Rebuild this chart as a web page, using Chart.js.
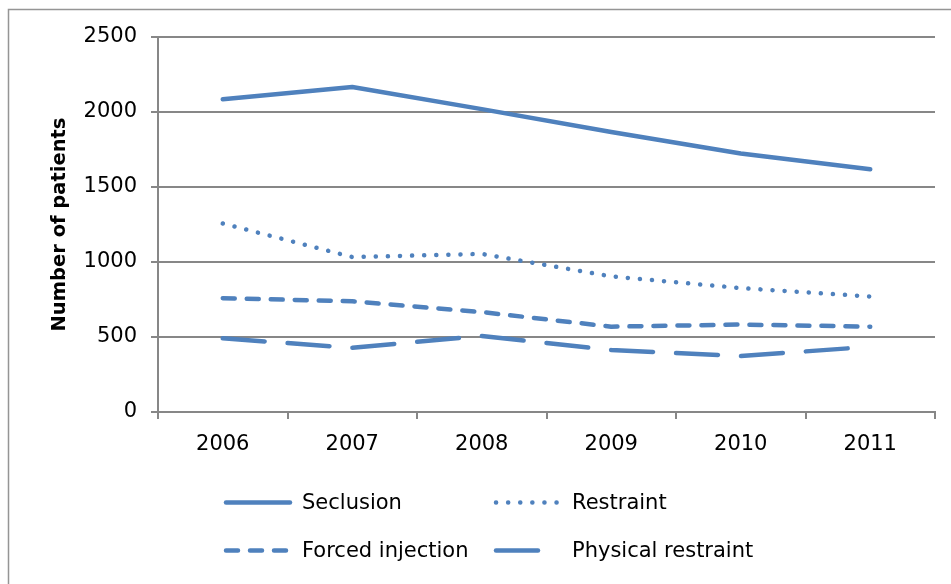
<!DOCTYPE html>
<html>
<head>
<meta charset="utf-8">
<script src="https://cdn.jsdelivr.net/npm/chart.js@4/dist/chart.umd.min.js"></script>
<style>
  html, body { margin: 0; padding: 0; background: #ffffff; }
  canvas { display: block; }
</style>
</head>
<body>
<canvas id="c" width="951" height="584"></canvas>
<script>
const years = ['2006', '2007', '2008', '2009', '2010', '2011'];
const seclusion = [2085, 2167, 2019, 1867, 1723, 1619];
const restraint = [1257, 1033, 1054, 904, 826, 770];
const forcedInjection = [759, 738, 666, 569, 583, 569];
const physicalRestraint = [491, 428, 507, 413, 373, 435];
const yTicks = [0, 500, 1000, 1500, 2000, 2500];
const yTitle = 'Number of patients';

const BLUE = '#4F81BD';
const GRID = '#878787';
const FONT = 'DejaVu Sans';

const framePlugin = {
  id: 'frame',
  beforeDraw(chart) {
    const ctx = chart.ctx;
    ctx.save();
    ctx.fillStyle = '#ffffff';
    ctx.fillRect(0, 0, chart.width, chart.height);
    ctx.strokeStyle = '#959595';
    ctx.lineWidth = 1.5;
    ctx.strokeRect(8.5, 9.5, 1200, 1000);
    ctx.restore();
  }
};

const legendPlugin = {
  id: 'customLegend',
  afterDraw(chart) {
    const ctx = chart.ctx;
    const colX = [226, 496];
    const rowY = [502.5, 550.5];
    ctx.save();
    chart.data.datasets.forEach((ds, i) => {
      const x0 = colX[i % 2];
      const y = rowY[Math.floor(i / 2)];
      ctx.strokeStyle = ds.borderColor;
      ctx.lineWidth = ds.borderWidth;
      ctx.lineCap = 'round';
      ctx.setLineDash(ds.borderDash || []);
      ctx.beginPath();
      ctx.moveTo(x0, y);
      ctx.lineTo(x0 + 64, y);
      ctx.stroke();
      ctx.setLineDash([]);
      ctx.fillStyle = '#000000';
      ctx.font = '21px "' + FONT + '"';
      ctx.textBaseline = 'middle';
      ctx.textAlign = 'left';
      ctx.fillText(ds.label, x0 + 76, y + 1);
    });
    ctx.restore();
  }
};

function mkSet(label, data, dash) {
  return {
    label: label,
    data: data,
    borderColor: BLUE,
    backgroundColor: BLUE,
    borderWidth: 4.5,
    borderDash: dash,
    borderCapStyle: 'round',
    borderJoinStyle: 'round',
    pointRadius: 0,
    pointHoverRadius: 0,
    tension: 0,
    fill: false
  };
}

new Chart(document.getElementById('c'), {
  type: 'line',
  data: {
    labels: years,
    datasets: [
      mkSet('Seclusion', seclusion, []),
      mkSet('Restraint', restraint, [0.1, 12]),
      mkSet('Forced injection', forcedInjection, [12, 12]),
      mkSet('Physical restraint', physicalRestraint, [42, 23])
    ]
  },
  options: {
    responsive: false,
    animation: false,
    devicePixelRatio: 1,
    layout: { padding: { left: 10, top: 37, right: 16, bottom: 120 } },
    plugins: {
      legend: { display: false },
      tooltip: { enabled: false }
    },
    scales: {
      x: {
        type: 'category',
        offset: true,
        grid: {
          display: true,
          offset: true,
          drawOnChartArea: false,
          drawTicks: true,
          tickLength: 7,
          color: GRID,
          lineWidth: 2
        },
        border: { display: true, color: GRID, width: 2 },
        ticks: {
          color: '#000000',
          font: { family: FONT, size: 21 },
          padding: 13,
          maxRotation: 0,
          autoSkip: false
        },
        afterFit(scale) { scale.height = 52; }
      },
      y: {
        min: 0,
        max: 2500,
        afterBuildTicks(scale) { scale.ticks = yTicks.map(v => ({ value: v })); },
        grid: {
          color: GRID,
          lineWidth: 2,
          drawTicks: true,
          tickLength: 7
        },
        border: { display: true, color: GRID, width: 2 },
        ticks: {
          color: '#000000',
          font: { family: FONT, size: 21 },
          padding: 14,
          callback: (v) => String(v)
        },
        title: {
          display: true,
          text: yTitle,
          color: '#000000',
          font: { family: FONT, size: 19.5, weight: 'bold' },
          padding: { top: 38, bottom: 0 }
        },
        afterFit(scale) { scale.width = 148; }
      }
    }
  },
  plugins: [framePlugin, legendPlugin]
});
</script>
</body>
</html>
